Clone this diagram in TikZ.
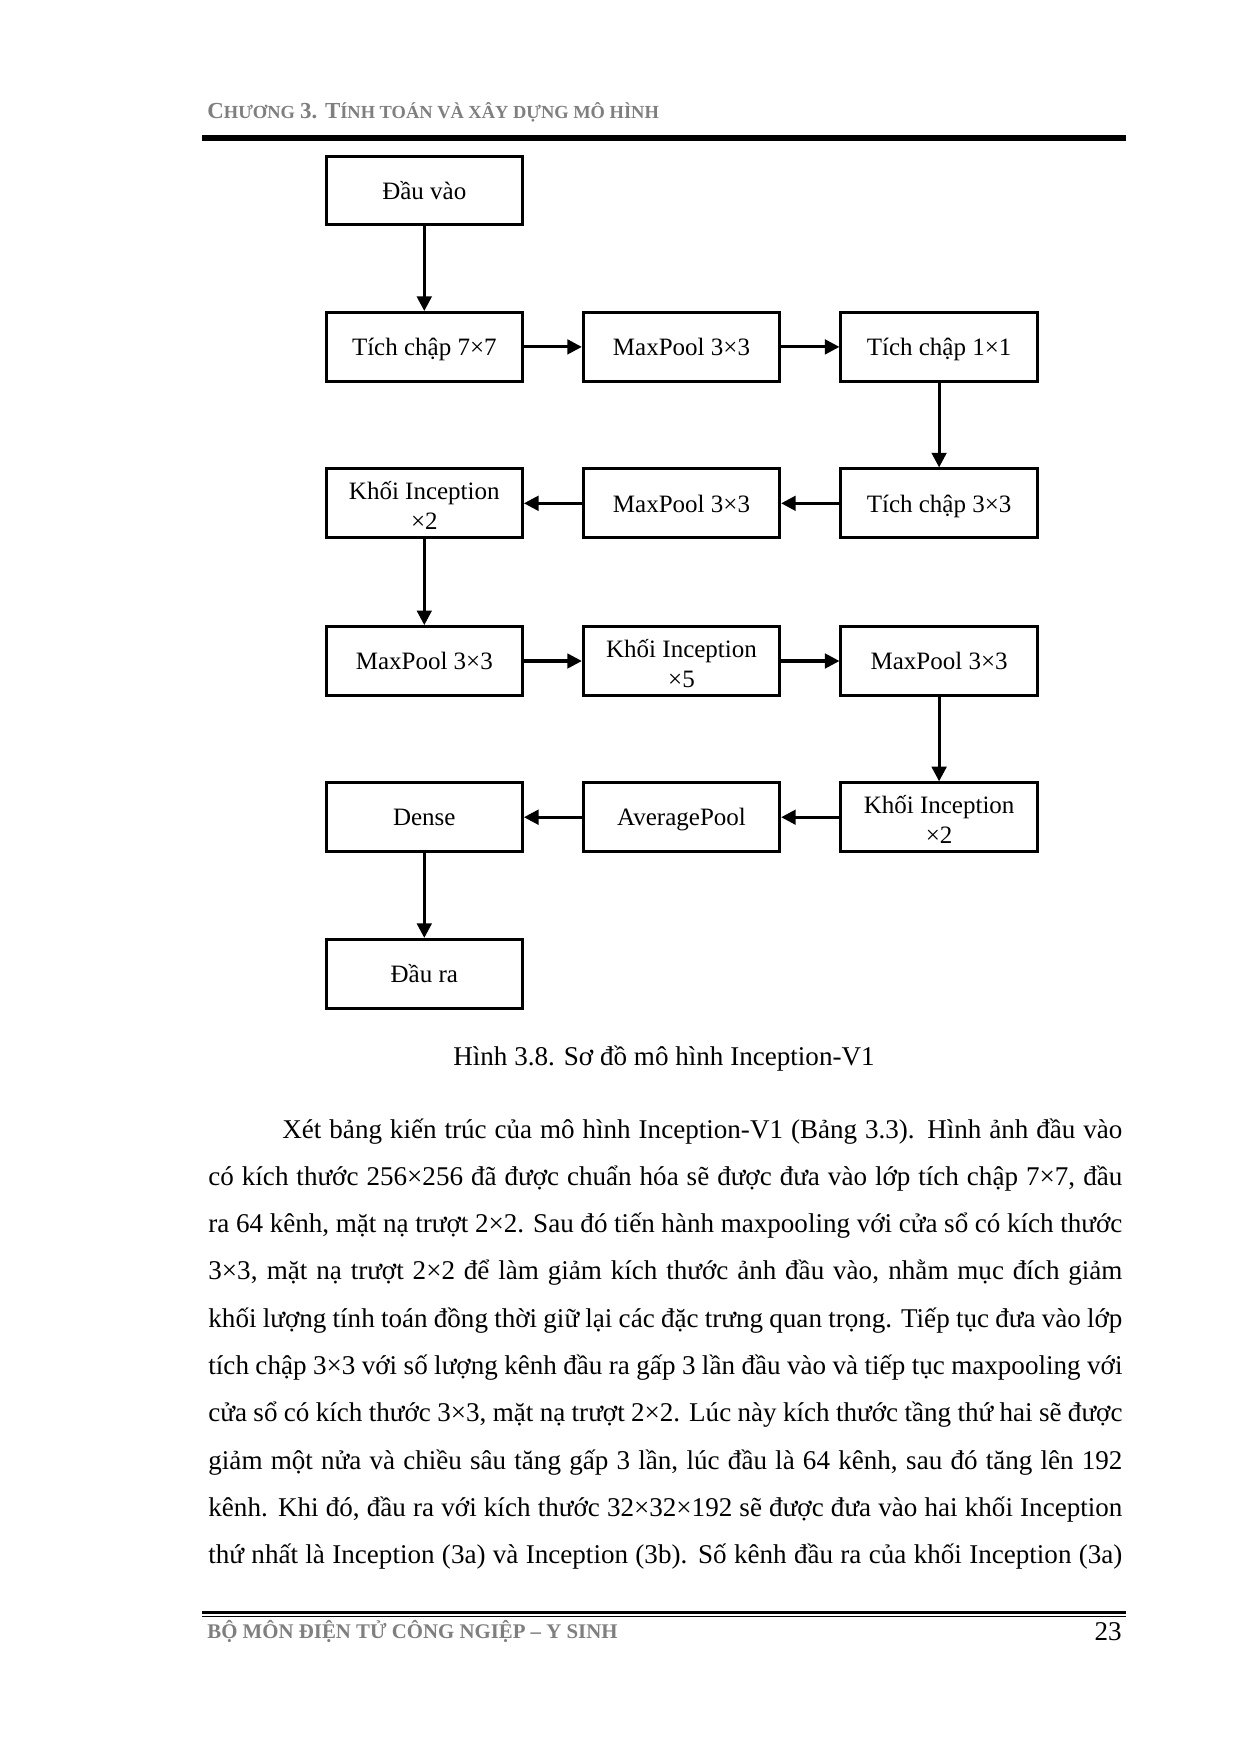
\documentclass[tikz,border=0pt]{standalone}
\usepackage{fontspec}
\setmainfont{Liberation Serif}
\usetikzlibrary{arrows.meta}
\definecolor{hdrgray}{HTML}{7F7F7F}
\newcommand\jline[2]{\makebox[#1][s]{#2}}
\newcommand\bigsc{\fontsize{11}{12}\selectfont}
\newcommand\smlsc{\fontsize{8.85}{12}\selectfont}
\begin{document}
\begin{tikzpicture}[x=0.48pt,y=-0.48pt,
  box/.style={draw, line width=1.45pt, minimum width=94.2pt, minimum height=33pt,
    inner sep=1pt, align=center, font=\fontsize{12}{14.6}\selectfont},
  one/.style={text height=10.3pt, text depth=1.9pt},
  flow/.style={line width=1.45pt, -{Triangle[length=7pt,width=7pt]}},
  body/.style={anchor=base west, inner sep=0pt, font=\fontsize{13}{15}\selectfont},
]
\useasboundingbox (0,0) rectangle (1241,1753);
\fill[white] (0,0) rectangle (1241,1753);

% header
\node[anchor=base west, inner sep=0pt, text=hdrgray, font=\bfseries] (hdr) at (207,118.5)
  {{\bigsc C}{\smlsc HƯƠNG} {\bigsc 3. T}{\smlsc ÍNH TOÁN VÀ XÂY DỰNG MÔ HÌNH}};
\coordinate (hl1) at (202,138.2);
\coordinate (hl2) at (1126,138.2);
\draw[line width=2.7pt] (hl1) -- (hl2);

% diagram
\node[box,one] (in)    at (424.3,190.4) {Đầu vào};
\node[box,one] (c7)    at (424.3,346.9) {Tích chập 7×7};
\node[box,one] (mp1)   at (681.5,346.9) {MaxPool 3×3};
\node[box,one] (c1)    at (939.1,346.9) {Tích chập 1×1};
\node[box,one] (c3)    at (939.1,503.3) {Tích chập 3×3};
\node[box,one] (mp2)   at (681.5,503.3) {MaxPool 3×3};
\node[box] (inc1)  at (424.3,503.3) {\rule{0pt}{11pt}Khối Inception\\×2};
\node[box,one] (mp3)   at (424.3,661.0) {MaxPool 3×3};
\node[box] (inc2)  at (681.5,661.0) {\rule{0pt}{11pt}Khối Inception\\×5};
\node[box,one] (mp4)   at (939.1,661.0) {MaxPool 3×3};
\node[box] (inc3)  at (939.1,817.2) {\rule{0pt}{11pt}Khối Inception\\×2};
\node[box,one] (avg)   at (681.5,817.2) {AveragePool};
\node[box,one] (dense) at (424.3,817.2) {Dense};
\node[box,one] (out)   at (424.3,973.8) {Đầu ra};

\draw[flow] (in) -- (c7);
\draw[flow] (c7) -- (mp1);
\draw[flow] (mp1) -- (c1);
\draw[flow] (c1) -- (c3);
\draw[flow] (c3) -- (mp2);
\draw[flow] (mp2) -- (inc1);
\draw[flow] (inc1) -- (mp3);
\draw[flow] (mp3) -- (inc2);
\draw[flow] (inc2) -- (mp4);
\draw[flow] (mp4) -- (inc3);
\draw[flow] (inc3) -- (avg);
\draw[flow] (avg) -- (dense);
\draw[flow] (dense) -- (out);

% caption
\node[anchor=base, inner sep=0pt, font=\fontsize{13}{15}\selectfont] (cap) at (664,1065)
  {Hình 3.8. Sơ đồ mô hình Inception-V1};

% body text
\node[body] (l1) at (282,1138.0) {\jline{403.2pt}{Xét bảng kiến trúc của mô hình Inception-V1 (Bảng 3.3). Hình ảnh đầu vào}};
\node[body] (l2) at (208,1185.3) {\jline{438.72pt}{có kích thước 256×256 đã được chuẩn hóa sẽ được đưa vào lớp tích chập 7×7, đầu}};
\node[body] (l3) at (208,1232.6) {\jline{438.72pt}{ra 64 kênh, mặt nạ trượt 2×2. Sau đó tiến hành maxpooling với cửa sổ có kích thước}};
\node[body] (l4) at (208,1279.9) {\jline{438.72pt}{3×3, mặt nạ trượt 2×2 để làm giảm kích thước ảnh đầu vào, nhằm mục đích giảm}};
\node[body] (l5) at (208,1327.2) {\jline{438.72pt}{khối lượng tính toán đồng thời giữ lại các đặc trưng quan trọng. Tiếp tục đưa vào lớp}};
\node[body] (l6) at (208,1374.5) {\jline{438.72pt}{tích chập 3×3 với số lượng kênh đầu ra gấp 3 lần đầu vào và tiếp tục maxpooling với}};
\node[body] (l7) at (208,1421.8) {\jline{438.72pt}{cửa sổ có kích thước 3×3, mặt nạ trượt 2×2. Lúc này kích thước tầng thứ hai sẽ được}};
\node[body] (l8) at (208,1469.1) {\jline{438.72pt}{giảm một nửa và chiều sâu tăng gấp 3 lần, lúc đầu là 64 kênh, sau đó tăng lên 192}};
\node[body] (l9) at (208,1516.4) {\jline{438.72pt}{kênh. Khi đó, đầu ra với kích thước 32×32×192 sẽ được đưa vào hai khối Inception}};
\node[body] (l10) at (208,1563.7) {\jline{438.72pt}{thứ nhất là Inception (3a) và Inception (3b). Số kênh đầu ra của khối Inception (3a)}};

% footer
\coordinate (fl1) at (202,1612.2);
\coordinate (fl2) at (1126,1612.2);
\coordinate (fl3) at (202,1616.4);
\coordinate (fl4) at (1126,1616.4);
\draw[line width=1.6pt] (fl1) -- (fl2);
\draw[line width=0.6pt] (fl3) -- (fl4);
\node[anchor=base west, inner sep=0pt, text=hdrgray, font=\bfseries\fontsize{10}{12}\selectfont] (ftr) at (207,1638.5)
  {BỘ MÔN ĐIỆN TỬ CÔNG NGIỆP – Y SINH};
\node[anchor=base east, inner sep=0pt, font=\fontsize{13}{15}\selectfont] (pg) at (1122,1640)
  {23};
\end{tikzpicture}
\end{document}
